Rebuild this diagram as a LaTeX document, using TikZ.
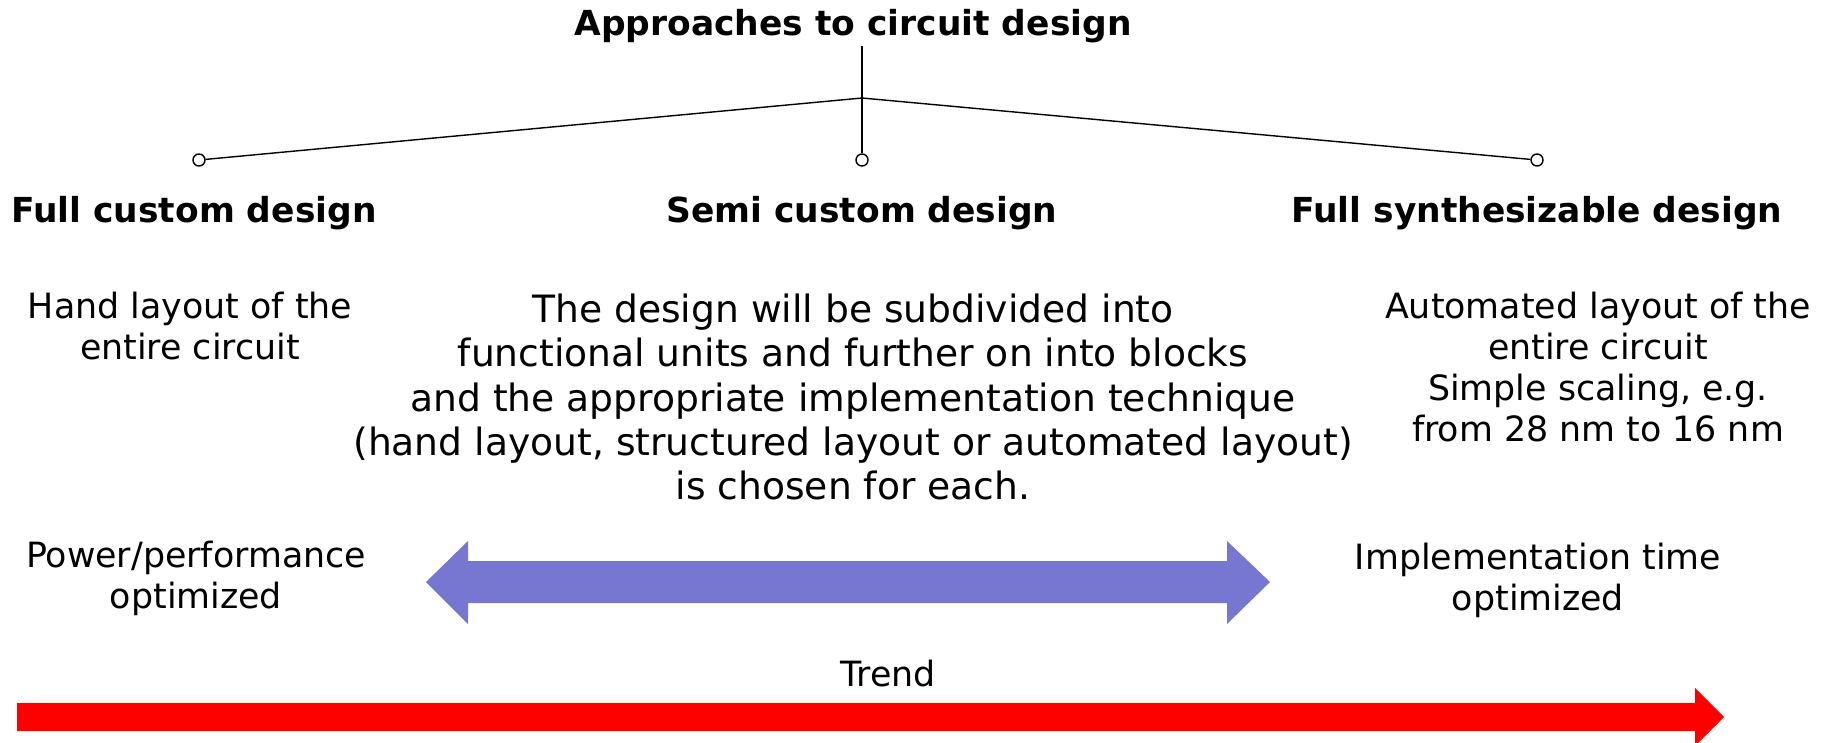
\documentclass[tikz,border=0pt]{standalone}
\usepackage{fontspec}
\setmainfont{DejaVu Sans}
\usetikzlibrary{positioning}

\begin{document}
\begin{tikzpicture}[x=0.01cm,y=-0.01cm]
\tikzstyle{head}=[font=\fontsize{9.8}{12}\selectfont\bfseries];
\tikzstyle{body}=[font=\fontsize{9.9}{11.7}\selectfont,align=center];
\tikzstyle{big}=[font=\fontsize{10.7}{12.6}\selectfont,align=center];
\tikzstyle{dot}=[circle,draw,fill=white,inner sep=0pt,minimum size=0.12cm];

\useasboundingbox (0,0) rectangle (1825,742);

% tree at the top
\node[head] (title) at (853,26) {Approaches to circuit design};
\coordinate (top) at (862,46);
\coordinate (fork) at (862,98);
\node[dot] (cfull) at (199,160) {};
\node[dot] (csemi) at (862,160) {};
\node[dot] (csyn) at (1537,160) {};
\draw (top) -- (csemi);
\draw (fork) -- (cfull);
\draw (fork) -- (csyn);

\node[head] (full) at (194,213) {Full custom design};
\node[head] (semi) at (862,213) {Semi custom design};
\node[head] (syn) at (1537,213) {Full synthesizable design};

\node[body] (fulltxt) at (190,326) {Hand layout of the\\entire circuit};
\node[big] (semitxt) at (853,397) {The design will be subdivided into\\functional units and further on into blocks\\and the appropriate implementation technique\\(hand layout, structured layout or automated layout)\\is chosen for each.};
\node[body] (syntxt) at (1598,367) {Automated layout of the\\entire circuit\\Simple scaling, e.g.\\from 28 nm to 16 nm};

\node[body] (power) at (196,578) {Power/performance\\optimized};
\node[body] (impl) at (1538,580) {Implementation time\\optimized};

% arrows
\fill[fill={rgb,255:red,119;green,119;blue,209}] (426,582) -- (468,541) -- (468,561) -- (1227,561) -- (1227,541) -- (1270,582) -- (1227,624) -- (1227,603) -- (468,603) -- (468,624) -- cycle;
\node[body] (trend) at (888,674) {Trend};
\fill[red] (17,703) -- (1695,703) -- (1695,688) -- (1724,717) -- (1695,746) -- (1695,731) -- (17,731) -- cycle;
\end{tikzpicture}
\end{document}
